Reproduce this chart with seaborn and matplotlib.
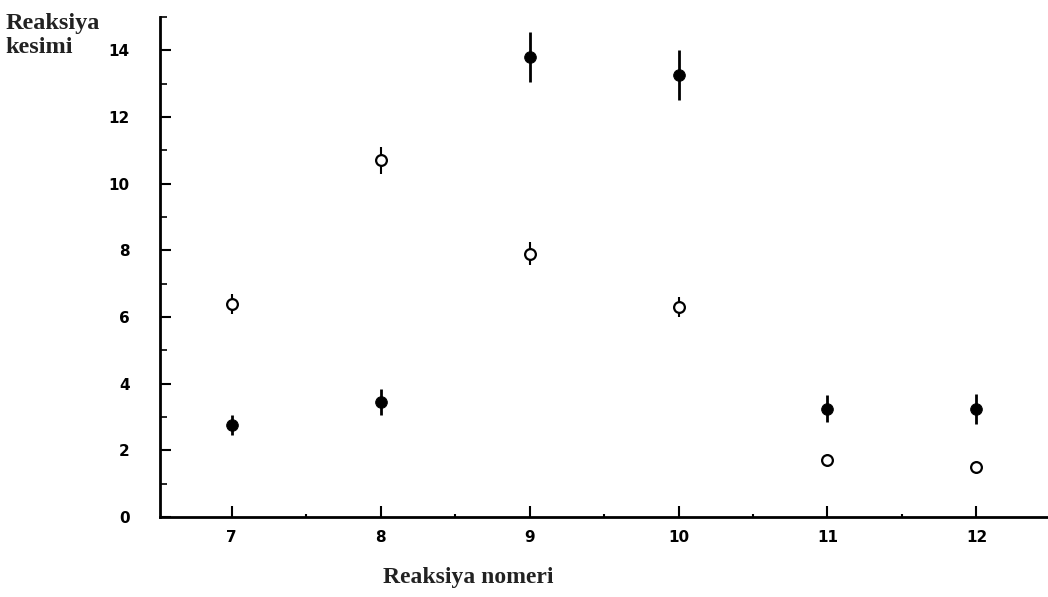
import matplotlib
matplotlib.use("Agg")
import matplotlib.pyplot as plt
import seaborn as sns
import pandas as pd
from matplotlib.ticker import MultipleLocator

# data
reactions = [7, 8, 9, 10, 11, 12]
filled_vals = [2.75, 3.45, 13.8, 13.25, 3.25, 3.25]
filled_err = [0.3, 0.4, 0.75, 0.75, 0.4, 0.45]
open_vals = [6.4, 10.7, 7.9, 6.3, 1.7, 1.5]
open_err = [0.3, 0.4, 0.35, 0.3, 0.0, 0.0]
y_ticks = [0, 2, 4, 6, 8, 10, 12, 14]
x_ticklabels = ["7", "8", "9", "10", "11", "12"]

sns.set_theme(style="white")
plt.rcParams["font.family"] = ["DejaVu Sans"]

fig = plt.figure(figsize=(10.48, 5.97), dpi=100)
ax = fig.add_axes([0.1527, 0.134, 0.8473, 0.8375])

df_f = pd.DataFrame({"x": reactions, "y": filled_vals, "e": filled_err})
df_o = pd.DataFrame({"x": reactions, "y": open_vals, "e": open_err})

ax.errorbar(df_f["x"], df_f["y"], yerr=df_f["e"], fmt="none", ecolor="black",
            elinewidth=2, capsize=0, zorder=2)
ax.errorbar(df_o["x"], df_o["y"], yerr=df_o["e"], fmt="none", ecolor="black",
            elinewidth=1.5, capsize=0, zorder=2)
sns.scatterplot(data=df_f, x="x", y="y", ax=ax, marker="o", s=70,
                color="black", edgecolor="black", zorder=3, legend=False)
sns.scatterplot(data=df_o, x="x", y="y", ax=ax, marker="o", s=60,
                facecolor="white", edgecolor="black", linewidth=1.6, zorder=3,
                legend=False)

ax.set_xlim(6.52, 12.48)
ax.set_ylim(0, 15.0)
ax.set_xticks(reactions)
ax.set_xticklabels(x_ticklabels, fontsize=11, fontweight="heavy")
ax.set_yticks(y_ticks)
ax.set_yticklabels([str(v) for v in y_ticks], fontsize=11, fontweight="heavy")
ax.xaxis.set_minor_locator(MultipleLocator(0.5))
ax.yaxis.set_minor_locator(MultipleLocator(1))
ax.tick_params(axis="both", which="major", direction="in", length=8, width=1.5,
               colors="black", labelcolor="black")
ax.tick_params(axis="y", which="minor", direction="in", length=5, width=1.2,
               colors="black")
ax.tick_params(axis="x", which="minor", direction="in", length=2, width=1.5,
               colors="black")
ax.tick_params(axis="y", which="both", left=True, pad=22)
ax.tick_params(axis="x", which="both", bottom=True, pad=9)

for s in ["top", "right"]:
    ax.spines[s].set_visible(False)
for s in ["left", "bottom"]:
    ax.spines[s].set_linewidth(2)
    ax.spines[s].set_color("black")

ax.set_xlabel("")
ax.set_ylabel("")
fig.text(0.005, 0.978, "Reaksiya\nkesimi", ha="left", va="top", fontsize=17.5,
         fontweight="bold", family="Liberation Serif", color="#222222",
         linespacing=1.2)
fig.text(0.447, 0.032, "Reaksiya nomeri", ha="center", va="center", fontsize=17,
         fontweight="bold", family="Liberation Serif", color="#222222")

fig.savefig("out.png", dpi=100)
